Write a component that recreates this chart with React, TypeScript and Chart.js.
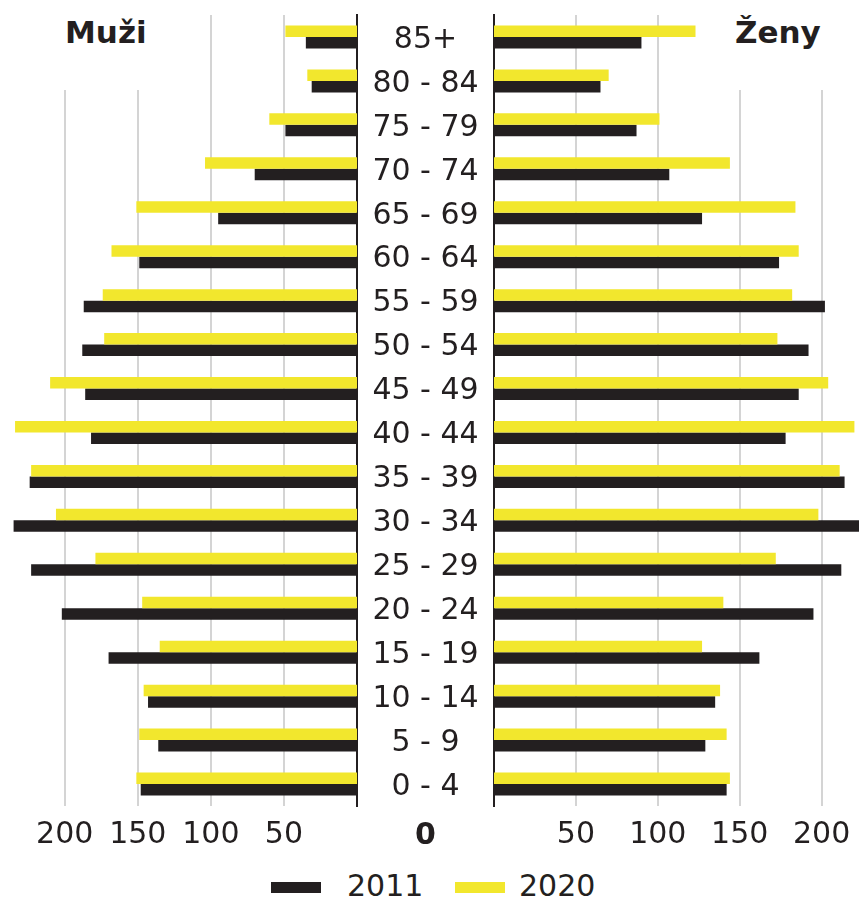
import React, { useEffect, useRef } from "react";
import { Chart, registerables } from "chart.js";

Chart.register(...registerables);

// Age groups, listed from top (oldest) to bottom (youngest)
const ageGroups = [
  "85+", "80 - 84", "75 - 79", "70 - 74", "65 - 69", "60 - 64",
  "55 - 59", "50 - 54", "45 - 49", "40 - 44", "35 - 39", "30 - 34",
  "25 - 29", "20 - 24", "15 - 19", "10 - 14", "5 - 9", "0 - 4",
];

const men2011 = [35, 31, 49, 70, 95, 149, 187, 188, 186, 182, 224, 235, 223, 202, 170, 143, 136, 148];
const men2020 = [49, 34, 60, 104, 151, 168, 174, 173, 210, 234, 223, 206, 179, 147, 135, 146, 149, 151];
const women2011 = [90, 65, 87, 107, 127, 174, 202, 192, 186, 178, 214, 226, 212, 195, 162, 135, 129, 142];
const women2020 = [123, 70, 101, 144, 184, 186, 182, 173, 204, 220, 211, 198, 172, 140, 127, 138, 142, 144];

const xTickValues = [50, 100, 150, 200];
const years = ["2011", "2020"];
const sideTitles = ["Muži", "Ženy"];
const centerZero = "0";

const DARK = "#231f20";
const YELLOW = "#f2e72d";
const GRID = "#d4d4d4";
const FONT = "'DejaVu Sans', sans-serif";
const FSIZE = 30;

function widestLabel(labels: string[]): number {
  const ctx = document.createElement("canvas").getContext("2d")!;
  ctx.font = `${FSIZE}px ${FONT}`;
  return Math.max(...labels.map((l) => ctx.measureText(l).width));
}

function makeConfig(left: boolean, labelPad: number): any {
  const d2011 = left ? men2011 : women2011;
  const d2020 = left ? men2020 : women2020;
  const common = { categoryPercentage: 0.524, barPercentage: 1, borderWidth: 0 };
  return {
    type: "bar",
    data: {
      labels: ageGroups,
      datasets: [
        { label: years[1], data: d2020, backgroundColor: YELLOW, ...common },
        { label: years[0], data: d2011, backgroundColor: DARK, ...common },
      ],
    },
    options: {
      indexAxis: "y",
      animation: false,
      responsive: true,
      maintainAspectRatio: false,
      layout: { padding: { top: 15, bottom: 0, left: 0, right: 0 } },
      plugins: { legend: { display: false }, tooltip: { enabled: false } },
      scales: {
        x: {
          reverse: left,
          min: 0,
          max: left ? 244.3 : 222.8,
          afterBuildTicks: (s: any) => {
            s.ticks = xTickValues.map((v) => ({ value: v }));
          },
          grid: { color: GRID, lineWidth: 2, drawTicks: false },
          border: { display: false },
          ticks: {
            font: { family: FONT, size: FSIZE },
            color: DARK,
            padding: 11,
            maxRotation: 0,
            autoSkip: false,
          },
          afterFit: (s: any) => {
            s.height = 54;
            s.paddingLeft = 0;
            s.paddingRight = 0;
          },
        },
        y: {
          position: left ? "right" : "left",
          grid: { display: false, drawTicks: false },
          border: { display: true, color: DARK, width: 2 },
          ticks: left
            ? {
                display: true,
                font: { family: FONT, size: FSIZE },
                color: DARK,
                crossAlign: "center",
                padding: labelPad,
                labelOffset: 3,
                autoSkip: false,
              }
            : { display: false },
          afterFit: (s: any) => {
            s.width = left ? 137 : 10;
            s.paddingTop = 0;
            s.paddingBottom = 0;
          },
        },
      },
    },
  };
}

export default function App() {
  const leftRef = useRef<HTMLCanvasElement>(null);
  const rightRef = useRef<HTMLCanvasElement>(null);

  useEffect(() => {
    const widest = widestLabel(ageGroups);
    const pad = 68.5 - widest / 2;
    const cl = new Chart(leftRef.current!, makeConfig(true, pad));
    const cr = new Chart(rightRef.current!, makeConfig(false, 0));
    return () => {
      cl.destroy();
      cr.destroy();
    };
  }, []);

  const textBase: React.CSSProperties = {
    position: "absolute",
    fontFamily: FONT,
    color: DARK,
    lineHeight: 1,
    whiteSpace: "nowrap",
  };

  return (
    <div style={{ position: "absolute", left: 0, top: 0, width: 859, height: 899, background: "#fff", overflow: "hidden" }}>
      <div style={{ position: "absolute", left: 0, top: 0, width: 494, height: 860 }}>
        <canvas ref={leftRef} />
      </div>
      <div style={{ position: "absolute", left: 484, top: 0, width: 375, height: 860 }}>
        <canvas ref={rightRef} />
      </div>

      <div style={{ position: "absolute", left: 56, top: 0, width: 104, height: 90, background: "#fff" }} />
      <div style={{ ...textBase, left: 65, top: 17, fontSize: 31, fontWeight: "bold" }}>{sideTitles[0]}</div>
      <div style={{ position: "absolute", left: 726, top: 0, width: 108, height: 90, background: "#fff" }} />
      <div style={{ ...textBase, left: 735, top: 17, fontSize: 31, fontWeight: "bold" }}>{sideTitles[1]}</div>

      <div style={{ ...textBase, left: 395, width: 61, textAlign: "center", top: 819, fontSize: 30, fontWeight: "bold" }}>
        {centerZero}
      </div>

      <div style={{ position: "absolute", left: 271, top: 882, width: 50, height: 11, background: DARK }} />
      <div style={{ ...textBase, left: 347, top: 871, fontSize: 30 }}>{years[0]}</div>
      <div style={{ position: "absolute", left: 455, top: 882, width: 50, height: 11, background: YELLOW }} />
      <div style={{ ...textBase, left: 519, top: 871, fontSize: 30 }}>{years[1]}</div>
    </div>
  );
}
